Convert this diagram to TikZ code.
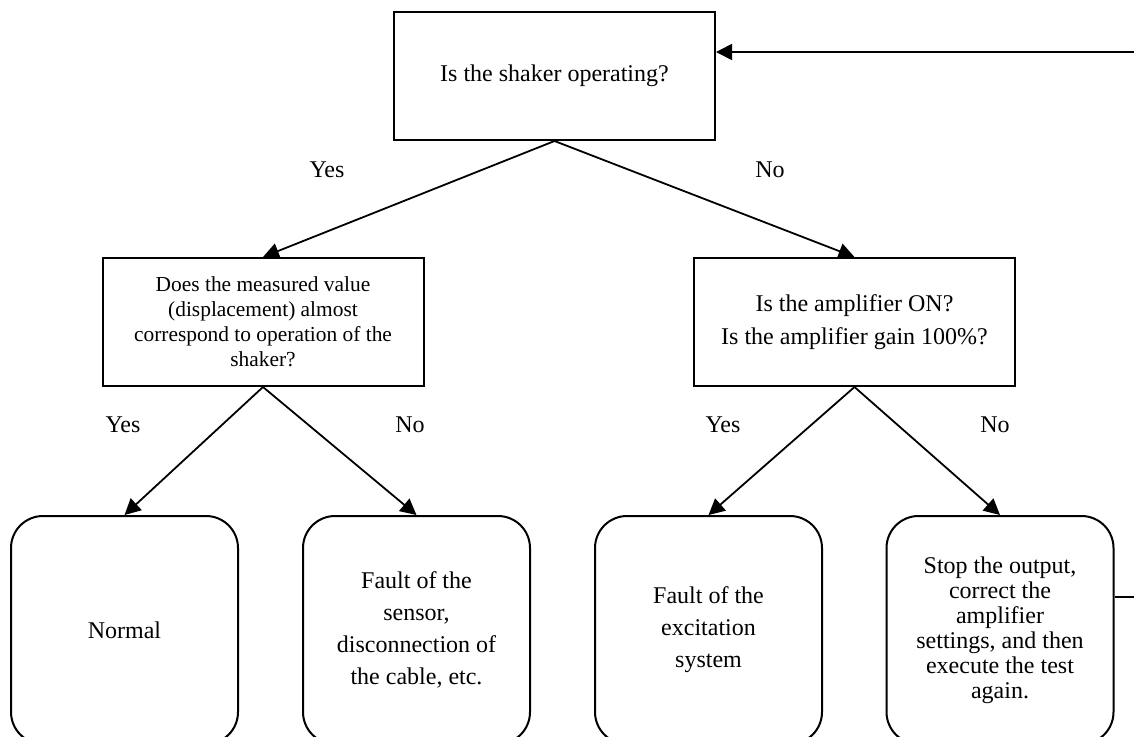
\documentclass[tikz,border=0pt]{standalone}
\usepackage{fontspec}
\setmainfont{Liberation Serif}
\usetikzlibrary{arrows.meta}

\begin{document}
\begin{tikzpicture}[x=0.5pt, y=-0.5pt,
    qbox/.style={draw, line width=1pt, minimum width=160.5pt, minimum height=64pt,
        align=center, font=\fontsize{12}{16.5}\selectfont},
    leaf/.style={draw, line width=1pt, rounded corners=16pt, minimum width=113.5pt,
        minimum height=114pt, align=center, font=\fontsize{12}{16}\selectfont},
    arr/.style={-{Triangle[length=8pt,width=8pt]}, line width=0.9pt},
    lab/.style={font=\fontsize{12}{14}\selectfont}]
    % 画布 (图片被裁切)
    \useasboundingbox (0,0) rectangle (1134,736);
    \clip (0,0) rectangle (1134,736);

    % 判断框
    \node[qbox] (shaker) at (554.5,76) {Is the shaker operating?};
    \node[qbox, font=\fontsize{10.7}{12.5}\selectfont] (measured) at (263,322)
        {Does the measured value\\(displacement) almost\\correspond to operation of the\\shaker?};
    \node[qbox] (amp) at (854.5,322) {Is the amplifier ON?\\Is the amplifier gain 100\%?};

    % 结果框
    \node[leaf] (normal) at (124.5,630) {Normal};
    \node[leaf] (sensor) at (416.5,630) {Fault of the\\sensor,\\disconnection of\\the cable, etc.};
    \node[leaf] (excite) at (708.5,630) {Fault of the\\excitation\\system};
    \node[leaf, font=\fontsize{12}{12.5}\selectfont] (stop) at (1000,630)
        {Stop the output,\\correct the\\amplifier\\settings, and then\\execute the test\\again.};

    % 分支
    \draw[arr] (shaker.south) -- (measured.north);
    \draw[arr] (shaker.south) -- (amp.north);
    \draw[arr] (measured.south) -- (normal.north);
    \draw[arr] (measured.south) -- (sensor.north);
    \draw[arr] (amp.south) -- (excite.north);
    \draw[arr] (amp.south) -- (stop.north);

    % 标签
    \node[lab] (yes1) at (327,170) {Yes};
    \node[lab] (no1) at (770,170) {No};
    \node[lab] (yes2) at (123,425) {Yes};
    \node[lab] (no2) at (410,425) {No};
    \node[lab] (yes3) at (723,425) {Yes};
    \node[lab] (no3) at (995,425) {No};

    % 回到开始
    \coordinate (backin) at (1170,597);
    \coordinate (backout) at (1170,52);
    \draw[arr] (stop.east |- backin) -- (backin) -- (backout) -- (shaker.east |- backout);
\end{tikzpicture}
\end{document}
